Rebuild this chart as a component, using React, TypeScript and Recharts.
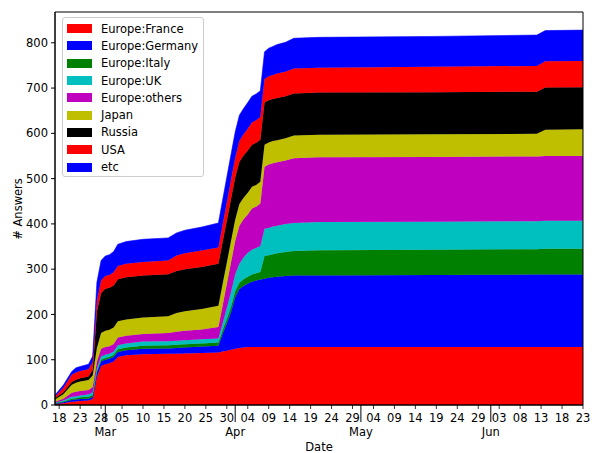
import { Area, AreaChart, Label, Legend, ReferenceArea, XAxis, YAxis } from 'recharts';

// day index: 0 = Feb 17, 126 = Jun 23
const days = [0, 2, 4, 5, 6, 8, 9, 10, 11, 12, 13, 14, 15, 17, 21, 27, 29, 31, 35, 39, 40, 41, 42, 43, 44, 45, 46, 47, 48, 49, 50, 51, 52, 53, 55, 57, 63, 90, 115, 117, 126];

const france = [2, 4, 7, 8, 9, 10, 13, 62, 86, 90, 92, 96, 106, 110, 112, 113, 113, 114, 115, 116, 118, 120, 122, 124, 126, 127, 128, 128, 128, 128, 128, 128, 128, 128, 128, 128, 128, 128, 128, 128, 128];
const germany = [1, 2, 4, 4, 4, 4, 5, 9, 10, 10, 10, 10, 11, 11, 12, 12, 13, 13, 14, 15, 39, 60, 83, 114, 130, 136, 140, 144, 147, 149, 151, 153, 154, 155, 157, 158, 158, 159, 160, 160, 160];
const italy = [1, 2, 3, 3, 4, 4, 4, 4, 4, 4, 4, 5, 6, 6, 7, 7, 7, 7, 7, 7, 8, 10, 12, 13, 14, 15, 15, 16, 16, 17, 50, 50, 51, 52, 53, 54, 56, 56, 56, 57, 57];
const uk = [1, 2, 4, 4, 4, 5, 6, 6, 7, 7, 7, 7, 9, 9, 9, 9, 9, 9, 9, 9, 15, 24, 32, 38, 42, 48, 53, 55, 56, 57, 60, 60, 61, 61, 62, 62, 62, 62, 62, 62, 62];
const others = [2, 4, 9, 10, 10, 10, 12, 15, 17, 17, 17, 17, 17, 17, 17, 18, 20, 21, 22, 25, 40, 53, 66, 73, 84, 84, 85, 91, 91, 94, 137, 140, 140, 140, 140, 143, 143, 143, 143, 143, 143];
const japan = [5, 10, 18, 20, 21, 22, 25, 30, 35, 36, 36, 36, 36, 36, 36, 37, 41, 43, 45, 47, 47, 47, 47, 47, 48, 48, 48, 48, 48, 48, 49, 49, 49, 49, 49, 50, 50, 50, 50, 58, 59];
const russia = [3, 4, 6, 7, 7, 8, 13, 80, 88, 93, 93, 93, 93, 93, 93, 93, 93, 93, 93, 93, 93, 93, 93, 93, 93, 93, 93, 93, 93, 93, 93, 93, 93, 93, 93, 93, 93, 93, 93, 93, 93];
const usa = [4, 10, 16, 16, 16, 16, 17, 25, 28, 28, 28, 29, 29, 30, 30, 30, 34, 35, 36, 36, 38, 40, 42, 44, 46, 47, 48, 49, 50, 50, 52, 53, 53, 54, 54, 55, 55, 56, 57, 58, 58];
const etc = [3, 6, 7, 10, 10, 11, 13, 40, 44, 44, 45, 46, 48, 49, 50, 50, 50, 51, 52, 54, 55, 56, 56, 57, 57, 57, 58, 58, 58, 58, 60, 62, 63, 64, 65, 67, 67, 67, 68, 68, 68];

const seriesNames = ['Europe:France', 'Europe:Germany', 'Europe:Italy', 'Europe:UK', 'Europe:others', 'Japan', 'Russia', 'USA', 'etc'];
const seriesValues = [france, germany, italy, uk, others, japan, russia, usa, etc];
const seriesColors = ['#ff0000', '#0000ff', '#008000', '#00bfbf', '#bf00bf', '#bfbf00', '#000000', '#ff0000', '#0000ff'];

const dayTicks = [1, 6, 11, 16, 21, 26, 31, 36, 41, 46, 51, 56, 61, 66, 71, 76, 81, 86, 91, 96, 101, 106, 111, 116, 121, 126];
const dayLabels = ['18', '23', '28', '05', '10', '15', '20', '25', '30', '04', '09', '14', '19', '24', '29', '04', '09', '14', '19', '24', '29', '03', '08', '13', '18', '23'];
const monthTicks = [12, 43, 73, 104];
const monthLabels = ['Mar', 'Apr', 'May', 'Jun'];
const yTicks = [0, 100, 200, 300, 400, 500, 600, 700, 800];

const data = days.map((d, i) => {
    const row: Record<string, number> = { d };
    seriesValues.forEach((vals, k) => { row['s' + k] = vals[i]; });
    return row;
});

const FONT = '"DejaVu Sans", sans-serif';
const FS = 11.5;

const DateTick = ({ x, y, payload }: any) => {
    const mi = monthTicks.indexOf(payload.value);
    if (mi >= 0) {
        return (
            <g>
                <line x1={x} x2={x} y1={y} y2={y + 17} stroke="#000" strokeWidth={1} />
                <text x={x} y={y + 31} textAnchor="middle" fontFamily={FONT} fontSize={FS} fill="#000">{monthLabels[mi]}</text>
            </g>
        );
    }
    const di = dayTicks.indexOf(payload.value);
    return (
        <g>
            <line x1={x} x2={x} y1={y} y2={y + 4} stroke="#000" strokeWidth={0.8} />
            <text x={x} y={y + 17} textAnchor="middle" fontFamily={FONT} fontSize={FS} fill="#000">{dayLabels[di]}</text>
        </g>
    );
};

const LegendBox = () => (
    <div style={{
        boxSizing: 'border-box', width: 142, height: 160, padding: '2px 4px',
        border: '1px solid #cccccc', borderRadius: 3, background: 'rgba(255,255,255,0.8)',
        fontFamily: FONT, fontSize: FS, color: '#000'
    }}>
        {seriesNames.map((name, i) => (
            <div key={name} style={{ height: 17.3, display: 'flex', alignItems: 'center' }}>
                <span style={{ display: 'inline-block', width: 25, height: 9, background: seriesColors[i], marginRight: 9 }} />
                <span>{name}</span>
            </div>
        ))}
    </div>
);

export default function App() {
    return (
        <div style={{ position: 'absolute', left: 0, top: 0, width: 592, height: 453, background: '#fff' }}>
            <AreaChart width={592} height={453} data={data} margin={{ top: 12, right: 9, bottom: 0, left: 5 }}>
                <XAxis
                    dataKey="d"
                    type="number"
                    domain={[0, 126]}
                    allowDataOverflow
                    ticks={[...dayTicks, ...monthTicks].sort((a, b) => a - b)}
                    interval={0}
                    tick={<DateTick />}
                    tickLine={false}
                    tickSize={0}
                    tickMargin={0}
                    axisLine={{ stroke: '#000' }}
                    height={48}
                >
                    <Label content={() => <text x={319} y={451} textAnchor="middle" fontFamily={FONT} fontSize={FS} fill="#000">Date</text>} />
                </XAxis>
                <YAxis
                    type="number"
                    domain={[0, 868]}
                    allowDataOverflow
                    ticks={yTicks}
                    interval={0}
                    width={50}
                    tickSize={4}
                    tickMargin={3}
                    tickLine={{ stroke: '#000' }}
                    axisLine={{ stroke: '#000' }}
                    tick={{ fontFamily: FONT, fontSize: FS, fill: '#000' }}
                >
                    <Label content={() => <text transform="translate(22,209) rotate(-90)" textAnchor="middle" fontFamily={FONT} fontSize={FS} fill="#000"># Answers</text>} />
                </YAxis>
                {seriesNames.map((name, k) => (
                    <Area
                        key={name}
                        name={name}
                        type="linear"
                        dataKey={'s' + k}
                        stackId="1"
                        fill={seriesColors[k]}
                        fillOpacity={1}
                        stroke={seriesColors[k]}
                        strokeWidth={0.6}
                        dot={false}
                        activeDot={false}
                        isAnimationActive={false}
                    />
                ))}
                <ReferenceArea x1={0} x2={126} y1={0} y2={868} fill="none" stroke="#000" strokeWidth={1} />
                <Legend
                    layout="vertical"
                    align="center"
                    verticalAlign="middle"
                    content={<LegendBox />}
                    wrapperStyle={{ left: 62, top: 17, width: 142, height: 160 }}
                />
            </AreaChart>
        </div>
    );
}
